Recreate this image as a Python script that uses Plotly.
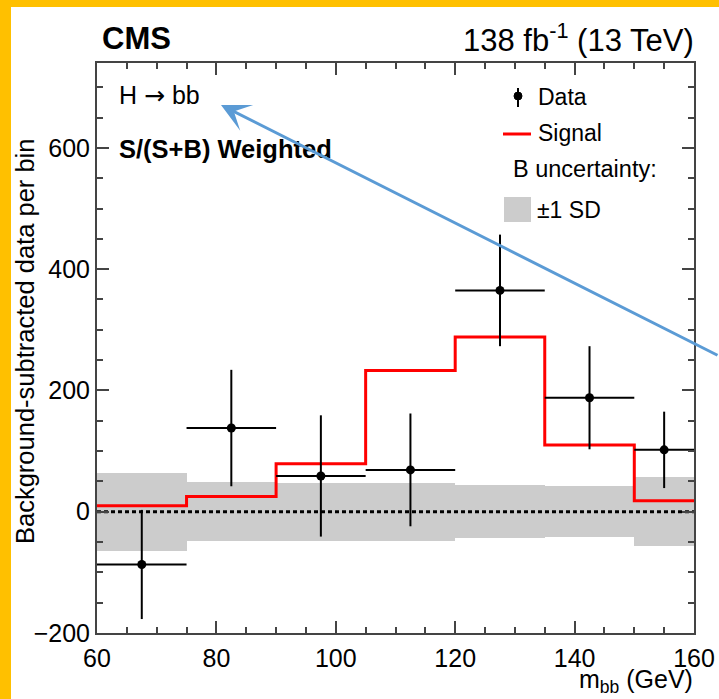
import plotly.graph_objects as go

# Binning of the dijet mass spectrum (GeV)
bin_edges = [60, 75, 90, 105, 120, 135, 150, 160]
# Background-subtracted, S/(S+B)-weighted data per bin and its uncertainty
data_values = [-87, 138, 59, 69, 365, 188, 102]
data_errors = [90, 96, 100, 93, 92, 85, 63]
# Expected H->bb signal per bin
signal_values = [10, 25, 79, 233, 288, 110, 18]
# +-1 SD background uncertainty per bin
bkg_unc = [64, 49, 48, 48, 44, 42, 57]

x_ticks = [60, 80, 100, 120, 140, 160]
y_ticks = [-200, 0, 200, 400, 600]

centers = [(a + b) / 2 for a, b in zip(bin_edges[:-1], bin_edges[1:])]
half_widths = [(b - a) / 2 for a, b in zip(bin_edges[:-1], bin_edges[1:])]
widths = [2 * h for h in half_widths]

W, H = 719, 699
ML, MR, MT, MB = 97, 25, 63, 66
PW, PH = W - ML - MR, H - MT - MB


def px(x):
    return (x - ML) / PW


def py(y):
    return (H - MB - y) / PH


FONT = "Liberation Sans, Arial, Helvetica, sans-serif"
AXC = "#444444"

fig = go.Figure()

# Background uncertainty band
fig.add_trace(go.Bar(
    x=centers, y=[2 * u for u in bkg_unc], base=[-u for u in bkg_unc],
    width=widths, marker=dict(color="#cccccc", line=dict(width=0)),
    hoverinfo="skip",
))

# Zero reference line
fig.add_trace(go.Scatter(
    x=[bin_edges[0], bin_edges[-1]], y=[0, 0], mode="lines",
    line=dict(color="black", width=3, dash="4px,3px"), hoverinfo="skip",
))

# Signal histogram
fig.add_trace(go.Scatter(
    x=bin_edges, y=signal_values + [signal_values[-1]], mode="lines",
    line=dict(color="#ff0000", width=3, shape="hv"),
))

# Data points
fig.add_trace(go.Scatter(
    x=centers, y=data_values, mode="markers",
    marker=dict(color="black", size=9),
    error_x=dict(type="data", array=half_widths, thickness=2, width=0, color="black"),
    error_y=dict(type="data", array=data_errors, thickness=2, width=0, color="black"),
))

axis_common = dict(
    showgrid=False, zeroline=False, showline=True, linecolor=AXC, linewidth=2,
    mirror="allticks", ticks="inside", ticklen=12, tickwidth=2, tickcolor=AXC,
    tickfont=dict(family=FONT, size=25, color="black"), automargin=False,
)

fig.update_xaxes(
    range=[bin_edges[0], bin_edges[-1]], tickvals=x_ticks, ticklabelstandoff=2,
    minor=dict(dtick=5, ticks="inside", ticklen=6, tickwidth=2, tickcolor=AXC),
    **axis_common,
)
fig.update_yaxes(
    range=[-200, 740], tickvals=y_ticks, ticklabelstandoff=0,
    minor=dict(dtick=50, ticks="inside", ticklen=6, tickwidth=2, tickcolor=AXC),
    **axis_common,
)

shapes = [
    # frame border strips
    dict(type="rect", xref="paper", yref="paper", x0=px(0), x1=px(11), y0=py(H), y1=py(0),
         fillcolor="#FFC000", line=dict(width=0), layer="below"),
    dict(type="rect", xref="paper", yref="paper", x0=px(0), x1=px(W), y0=py(7), y1=py(0),
         fillcolor="#FFC000", line=dict(width=0), layer="below"),
    # legend symbols
    dict(type="line", xref="paper", yref="paper", x0=px(518), x1=px(518), y0=py(88), y1=py(107),
         line=dict(color="black", width=2)),
    dict(type="circle", xref="paper", yref="paper", x0=px(514), x1=px(522), y0=py(92), y1=py(100),
         fillcolor="black", line=dict(color="black", width=1)),
    dict(type="line", xref="paper", yref="paper", x0=px(503), x1=px(531), y0=py(134), y1=py(134),
         line=dict(color="#ff0000", width=3)),
    dict(type="rect", xref="paper", yref="paper", x0=px(504), x1=px(531), y0=py(222), y1=py(197),
         fillcolor="#cccccc", line=dict(width=0)),
]


def label(text, x, y, size, xanchor="left", **kw):
    return dict(text=text, x=px(x), y=py(y), xref="paper", yref="paper",
                xanchor=xanchor, yanchor="middle", showarrow=False,
                font=dict(family=FONT, size=size, color="black"), **kw)


annotations = [
    label("<b>CMS</b>", 100, 38, 31),
    label("138 fb<sup>-1</sup> (13 TeV)", 696, 38, 31, xanchor="right"),
    label("H <span style=\"font-family:'DejaVu Sans'\">\u2192</span> bb", 117, 96, 25),
    label("<b>S/(S+B) Weighted</b>", 117, 149, 25.5),
    label("Data", 536, 97, 23),
    label("Signal", 536, 133, 23),
    label("B uncertainty:", 511, 169, 23.5),
    label("\u00b11 SD", 535, 210, 23),
    label("Background-subtracted data per bin", 25, 342, 25.5, xanchor="center", textangle=-90),
    label("m<sub>bb</sub> (GeV)", 695, 681, 25, xanchor="right"),
    dict(text="", x=px(221), y=py(105), xref="paper", yref="paper",
         showarrow=True, ax=520, ay=251, arrowhead=3, arrowsize=1.6,
         arrowwidth=3, arrowcolor="#5B9BD5", standoff=0),
]

fig.update_layout(
    width=W, height=H, margin=dict(l=ML, r=MR, t=MT, b=MB, autoexpand=False),
    paper_bgcolor="white", plot_bgcolor="white", showlegend=False,
    bargap=0, shapes=shapes, annotations=annotations,
    font=dict(family=FONT),
)

fig.write_html("out.html")
